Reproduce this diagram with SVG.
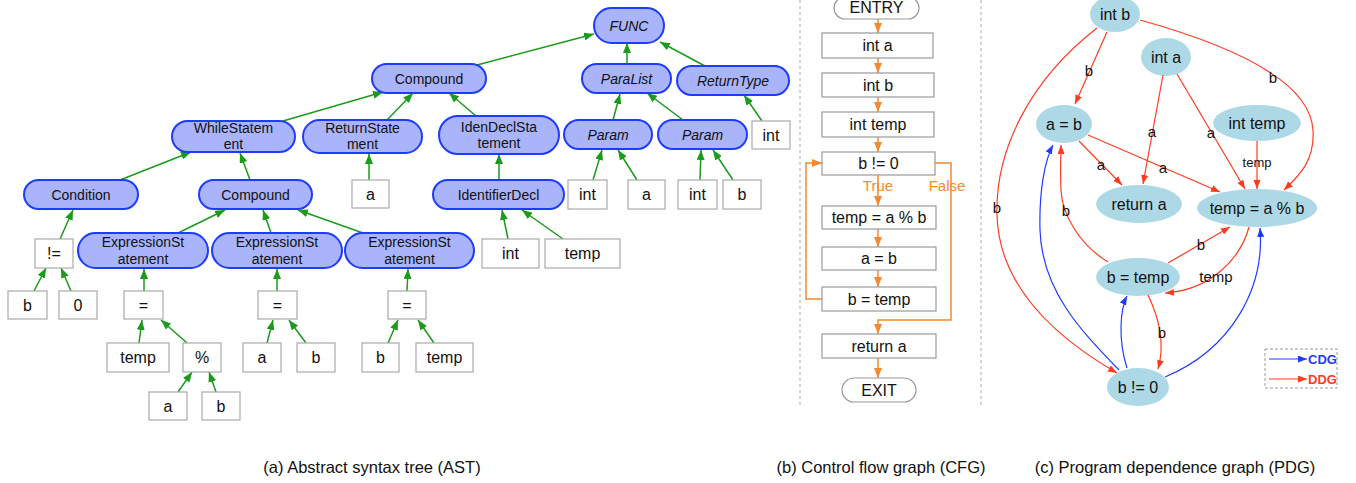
<svg xmlns="http://www.w3.org/2000/svg" width="1356" height="483" viewBox="0 0 1356 483">
<style>
  text { font-family: "Liberation Sans", Arial, sans-serif; fill: #111; text-anchor: middle; }
  .pill { fill: #a9b4fb; stroke: #1d3cff; stroke-width: 2; }
  .leaf { fill: #fff; stroke: #aaaaaa; stroke-width: 1.2; }
  .pt { font-size: 14px; }
  .it { font-style: italic; }
  .lt { font-size: 16px; }
  .ast { stroke: #1b9a1b; stroke-width: 1.5; fill: none; marker-end: url(#ga); }
  .cbox { fill: #fff; stroke: #999; stroke-width: 1.2; }
  .cfg { stroke: #f5892b; stroke-width: 1.5; fill: none; marker-end: url(#oa); }
  .ct { font-size: 16px; }
  .ol { font-size: 15px; fill: #f5892b; }
  .ell { fill: #add8e6; }
  .pt16 { font-size: 16px; }
  .ddg { stroke: #ff3b1f; stroke-width: 1.2; fill: none; marker-end: url(#ra); }
  .cdg { stroke: #1e3cff; stroke-width: 1.2; fill: none; marker-end: url(#ba); }
  .el { font-size: 15px; }
  .sep { stroke: #aaa; stroke-width: 1; stroke-dasharray: 3 3; }
  .cap { font-size: 16.5px; }
</style>
<defs>
  <marker id="ga" markerUnits="userSpaceOnUse" markerWidth="11" markerHeight="8" refX="10" refY="4" orient="auto"><path d="M0,0 L10,4 L0,8 z" fill="#1b9a1b"/></marker>
  <marker id="oa" markerUnits="userSpaceOnUse" markerWidth="11" markerHeight="8" refX="10" refY="4" orient="auto"><path d="M0,0 L10,4 L0,8 z" fill="#f5892b"/></marker>
  <marker id="ra" markerUnits="userSpaceOnUse" markerWidth="10" markerHeight="8" refX="9" refY="3.5" orient="auto"><path d="M0,0 L9,3.5 L0,7 z" fill="#ff3b1f"/></marker>
  <marker id="ba" markerUnits="userSpaceOnUse" markerWidth="10" markerHeight="8" refX="9" refY="3.5" orient="auto"><path d="M0,0 L9,3.5 L0,7 z" fill="#1e3cff"/></marker>
</defs>

<!-- panel separators -->
<line class="sep" x1="800" y1="0" x2="800" y2="408"/>
<line class="sep" x1="981" y1="0" x2="981" y2="408"/>

<!-- ===== AST ===== -->
<g id="ast-edges">
  <line class="ast" x1="477" y1="65" x2="594" y2="34"/>
  <line class="ast" x1="627" y1="64" x2="627" y2="43"/>
  <line class="ast" x1="705" y1="66" x2="660" y2="42"/>
  <line class="ast" x1="283" y1="121" x2="383" y2="92"/>
  <line class="ast" x1="387" y1="120" x2="413" y2="93"/>
  <line class="ast" x1="476" y1="116" x2="449" y2="93"/>
  <line class="ast" x1="613" y1="120" x2="620" y2="94"/>
  <line class="ast" x1="683" y1="120" x2="647" y2="93"/>
  <line class="ast" x1="762" y1="121" x2="744" y2="95"/>
  <line class="ast" x1="120" y1="180" x2="191" y2="152"/>
  <line class="ast" x1="250" y1="180" x2="240" y2="153"/>
  <line class="ast" x1="369" y1="180" x2="369" y2="154"/>
  <line class="ast" x1="499" y1="180" x2="499" y2="154"/>
  <line class="ast" x1="593" y1="180" x2="602" y2="150"/>
  <line class="ast" x1="637" y1="180" x2="618" y2="150"/>
  <line class="ast" x1="700" y1="180" x2="701" y2="150"/>
  <line class="ast" x1="733" y1="180" x2="713" y2="150"/>
  <line class="ast" x1="508" y1="239" x2="502" y2="210"/>
  <line class="ast" x1="563" y1="239" x2="522" y2="210"/>
  <line class="ast" x1="60" y1="239" x2="73" y2="210"/>
  <line class="ast" x1="178" y1="233" x2="225" y2="210"/>
  <line class="ast" x1="271" y1="233" x2="263" y2="210"/>
  <line class="ast" x1="363" y1="233" x2="298" y2="210"/>
  <line class="ast" x1="34" y1="291" x2="46" y2="268"/>
  <line class="ast" x1="71" y1="291" x2="61" y2="268"/>
  <line class="ast" x1="144" y1="291" x2="144" y2="269"/>
  <line class="ast" x1="277" y1="291" x2="277" y2="269"/>
  <line class="ast" x1="407" y1="291" x2="408" y2="269"/>
  <line class="ast" x1="139" y1="343" x2="142" y2="320"/>
  <line class="ast" x1="187" y1="343" x2="161" y2="320"/>
  <line class="ast" x1="267" y1="343" x2="273" y2="320"/>
  <line class="ast" x1="306" y1="343" x2="289" y2="320"/>
  <line class="ast" x1="388" y1="343" x2="398" y2="320"/>
  <line class="ast" x1="434" y1="343" x2="418" y2="320"/>
  <line class="ast" x1="178" y1="392" x2="192" y2="372"/>
  <line class="ast" x1="216" y1="392" x2="209" y2="372"/>
</g>

<g id="ast-func"><rect class="pill" x="594" y="8" width="70" height="35" rx="17.5"/><text class="pt it" x="629" y="31">FUNC</text></g>
<g id="ast-compound-body"><rect class="pill" x="372" y="64" width="114" height="29" rx="14.5"/><text class="pt" x="429" y="84">Compound</text></g>
<g id="ast-paralist"><rect class="pill" x="582" y="64" width="89" height="29" rx="14.5"/><text class="pt it" x="626.5" y="84">ParaList</text></g>
<g id="ast-returntype"><rect class="pill" x="677" y="66" width="112" height="29" rx="14.5"/><text class="pt it" x="733" y="86">ReturnType</text></g>
<g id="ast-while"><rect class="pill" x="172" y="121" width="123" height="31" rx="15.5"/><text class="pt" x="233.5" y="133">WhileStatem</text><text class="pt" x="233.5" y="149">ent</text></g>
<g id="ast-return"><rect class="pill" x="303" y="120" width="119" height="33" rx="16.5"/><text class="pt" x="362.5" y="133">ReturnState</text><text class="pt" x="362.5" y="149">ment</text></g>
<g id="ast-idendecl-stmt"><rect class="pill" x="439" y="116" width="120" height="38" rx="19"/><text class="pt" x="499" y="132">IdenDeclSta</text><text class="pt" x="499" y="148">tement</text></g>
<g id="ast-param-a"><rect class="pill" x="564" y="120" width="88" height="29" rx="14.5"/><text class="pt it" x="608" y="140">Param</text></g>
<g id="ast-param-b"><rect class="pill" x="658" y="120" width="89" height="29" rx="14.5"/><text class="pt it" x="702.5" y="140">Param</text></g>
<g id="ast-rettype-int"><rect class="leaf" x="752" y="121" width="38" height="28"/><text class="lt" x="771" y="141">int</text></g>
<g id="ast-condition"><rect class="pill" x="24" y="180" width="114" height="29" rx="14.5"/><text class="pt" x="81" y="200">Condition</text></g>
<g id="ast-compound-loop"><rect class="pill" x="199" y="180" width="113" height="29" rx="14.5"/><text class="pt" x="255.5" y="200">Compound</text></g>
<g id="ast-ret-a"><rect class="leaf" x="352" y="180" width="37" height="28"/><text class="lt" x="370.5" y="200">a</text></g>
<g id="ast-identdecl"><rect class="pill" x="433" y="180" width="131" height="29" rx="14.5"/><text class="pt" x="498.5" y="200">IdentifierDecl</text></g>
<g id="ast-p1-int"><rect class="leaf" x="568" y="180" width="39" height="29"/><text class="lt" x="587.5" y="200">int</text></g>
<g id="ast-p1-a"><rect class="leaf" x="628" y="180" width="37" height="29"/><text class="lt" x="646.5" y="200">a</text></g>
<g id="ast-p2-int"><rect class="leaf" x="678" y="180" width="39" height="29"/><text class="lt" x="697.5" y="200">int</text></g>
<g id="ast-p2-b"><rect class="leaf" x="723" y="180" width="38" height="29"/><text class="lt" x="742" y="200">b</text></g>
<g id="ast-decl-int"><rect class="leaf" x="482" y="239" width="57" height="29"/><text class="lt" x="510.5" y="259">int</text></g>
<g id="ast-decl-temp"><rect class="leaf" x="545" y="239" width="75" height="29"/><text class="lt" x="582.5" y="259">temp</text></g>
<g id="ast-neq"><rect class="leaf" x="35" y="239" width="38" height="29"/><text class="lt" x="54" y="259">!=</text></g>
<g id="ast-expr1"><rect class="pill" x="78" y="233" width="130" height="35" rx="17.5"/><text class="pt" x="143" y="247">ExpressionSt</text><text class="pt" x="143" y="264">atement</text></g>
<g id="ast-expr2"><rect class="pill" x="212" y="233" width="130" height="35" rx="17.5"/><text class="pt" x="277" y="247">ExpressionSt</text><text class="pt" x="277" y="264">atement</text></g>
<g id="ast-expr3"><rect class="pill" x="345" y="233" width="129" height="35" rx="17.5"/><text class="pt" x="409.5" y="247">ExpressionSt</text><text class="pt" x="409.5" y="264">atement</text></g>
<g id="ast-cond-b"><rect class="leaf" x="8" y="291" width="39" height="28"/><text class="lt" x="27.5" y="311">b</text></g>
<g id="ast-cond-0"><rect class="leaf" x="59" y="291" width="38" height="28"/><text class="lt" x="78" y="311">0</text></g>
<g id="ast-assign1"><rect class="leaf" x="124" y="291" width="39" height="28"/><text class="lt" x="143.5" y="311">=</text></g>
<g id="ast-assign2"><rect class="leaf" x="258" y="291" width="39" height="28"/><text class="lt" x="277.5" y="311">=</text></g>
<g id="ast-assign3"><rect class="leaf" x="388" y="291" width="38" height="28"/><text class="lt" x="407" y="311">=</text></g>
<g id="ast-a1-temp"><rect class="leaf" x="107" y="343" width="62" height="29"/><text class="lt" x="138" y="363">temp</text></g>
<g id="ast-mod"><rect class="leaf" x="183" y="343" width="38" height="29"/><text class="lt" x="202" y="363">%</text></g>
<g id="ast-a2-a"><rect class="leaf" x="243" y="343" width="38" height="29"/><text class="lt" x="262" y="363">a</text></g>
<g id="ast-a2-b"><rect class="leaf" x="297" y="343" width="38" height="29"/><text class="lt" x="316" y="363">b</text></g>
<g id="ast-a3-b"><rect class="leaf" x="362" y="343" width="37" height="29"/><text class="lt" x="380.5" y="363">b</text></g>
<g id="ast-a3-temp"><rect class="leaf" x="416" y="343" width="57" height="29"/><text class="lt" x="444.5" y="363">temp</text></g>
<g id="ast-mod-a"><rect class="leaf" x="149" y="392" width="38" height="28"/><text class="lt" x="168" y="412">a</text></g>
<g id="ast-mod-b"><rect class="leaf" x="202" y="392" width="38" height="28"/><text class="lt" x="221" y="412">b</text></g>

<!-- ===== CFG ===== -->
<g id="cfg-edges">
  <line class="cfg" x1="878" y1="19" x2="878" y2="33"/>
  <line class="cfg" x1="878" y1="58" x2="878" y2="73"/>
  <line class="cfg" x1="878" y1="97" x2="878" y2="112"/>
  <line class="cfg" x1="878" y1="137" x2="878" y2="152"/>
  <line class="cfg" x1="878" y1="175" x2="878" y2="206"/>
  <line class="cfg" x1="878" y1="229" x2="878" y2="247"/>
  <line class="cfg" x1="878" y1="270" x2="878" y2="287"/>
  <path class="cfg" d="M822,299 H806 V163 H822"/>
  <path class="cfg" d="M935,163 H951 V320 H878 V334"/>
  <line class="cfg" x1="878" y1="358" x2="878" y2="378"/>
  <text class="ol" x="878" y="191">True</text>
  <text class="ol" x="947" y="191">False</text>
</g>
<g id="cfg-entry"><rect class="cbox" x="834" y="-3" width="85" height="22" rx="11"/><text class="ct" x="876.5" y="13">ENTRY</text></g>
<g id="cfg-int-a"><rect class="cbox" x="822" y="33" width="111" height="25"/><text class="ct" x="877.5" y="51">int a</text></g>
<g id="cfg-int-b"><rect class="cbox" x="822" y="73" width="112" height="24"/><text class="ct" x="878" y="91">int b</text></g>
<g id="cfg-int-temp"><rect class="cbox" x="822" y="112" width="112" height="25"/><text class="ct" x="878" y="130">int temp</text></g>
<g id="cfg-cond"><rect class="cbox" x="822" y="152" width="113" height="23"/><text class="ct" x="878.5" y="169">b != 0</text></g>
<g id="cfg-mod"><rect class="cbox" x="822" y="206" width="114" height="23"/><text class="ct" x="879" y="223">temp = a % b</text></g>
<g id="cfg-ab"><rect class="cbox" x="822" y="247" width="114" height="23"/><text class="ct" x="879" y="264">a = b</text></g>
<g id="cfg-btemp"><rect class="cbox" x="822" y="287" width="114" height="24"/><text class="ct" x="879" y="305">b = temp</text></g>
<g id="cfg-return"><rect class="cbox" x="822" y="334" width="114" height="24"/><text class="ct" x="879" y="352">return a</text></g>
<g id="cfg-exit"><rect class="cbox" x="842" y="378" width="74" height="24" rx="12"/><text class="ct" x="879" y="396">EXIT</text></g>

<!-- ===== PDG ===== -->
<g id="pdg-int-b"><ellipse class="ell" cx="1115" cy="14" rx="25" ry="18"/><text class="pt16" x="1115" y="20">int b</text></g>
<g id="pdg-int-a"><ellipse class="ell" cx="1166" cy="57" rx="25" ry="19"/><text class="pt16" x="1166" y="63">int a</text></g>
<g id="pdg-ab"><ellipse class="ell" cx="1064" cy="124" rx="28" ry="19"/><text class="pt16" x="1064" y="130">a = b</text></g>
<g id="pdg-int-temp"><ellipse class="ell" cx="1257" cy="123" rx="44" ry="18"/><text class="pt16" x="1257" y="129">int temp</text></g>
<g id="pdg-return"><ellipse class="ell" cx="1139" cy="204" rx="43" ry="19"/><text class="pt16" x="1139" y="210">return a</text></g>
<g id="pdg-mod"><ellipse class="ell" cx="1257" cy="208" rx="60" ry="19"/><text class="pt16" x="1257" y="214">temp = a % b</text></g>
<g id="pdg-btemp"><ellipse class="ell" cx="1138" cy="277" rx="42" ry="19"/><text class="pt16" x="1138" y="283">b = temp</text></g>
<g id="pdg-cond"><ellipse class="ell" cx="1138" cy="387" rx="31" ry="19"/><text class="pt16" x="1138" y="393">b != 0</text></g>

<g id="pdg-edges">
  <path class="ddg" d="M1107,32 L1075,104"/>
  <path class="ddg" d="M1097,28 C1030,80 995,150 997,215 C999,290 1060,340 1117,373"/>
  <path class="ddg" d="M1140,20 C1230,45 1310,80 1313,130 C1315,160 1300,175 1284,190"/>
  <path class="ddg" d="M1163,75 L1143,184"/>
  <path class="ddg" d="M1177,74 L1245,189"/>
  <path class="ddg" d="M1257,141 L1257,189"/>
  <path class="ddg" d="M1079,141 L1122,185"/>
  <path class="ddg" d="M1088,135 L1220,192"/>
  <path class="ddg" d="M1108,262 C1080,245 1062,215 1061,190 C1060,170 1061,155 1061,145"/>
  <path class="cdg" d="M1119,370 C1080,330 1042,290 1040,230 C1039,190 1045,160 1053,145"/>
  <path class="ddg" d="M1168,263 L1230,227"/>
  <path class="ddg" d="M1249,227 C1240,260 1210,290 1165,293"/>
  <path class="ddg" d="M1148,295 C1160,320 1165,345 1158,369"/>
  <path class="cdg" d="M1127,368 C1118,340 1120,310 1127,296"/>
  <path class="cdg" d="M1165,377 C1230,350 1265,290 1260,228"/>
  <g>
    <text class="el" x="1089" y="76">b</text>
    <text class="el" x="997" y="213">b</text>
    <text class="el" x="1273" y="83">b</text>
    <text class="el" x="1152" y="137">a</text>
    <text class="el" x="1211" y="138">a</text>
    <text x="1257" y="167" style="font-size:13px">temp</text>
    <text class="el" x="1101" y="170">a</text>
    <text class="el" x="1163" y="173">a</text>
    <text class="el" x="1066" y="216">b</text>
    <text class="el" x="1201" y="250">b</text>
    <text class="el" x="1216" y="282">temp</text>
    <text class="el" x="1162" y="338">b</text>
  </g>
</g>

<g id="pdg-legend">
  <rect x="1265" y="349" width="72" height="39" fill="#fff" stroke="#999" stroke-width="1" stroke-dasharray="3 2"/>
  <line class="cdg" x1="1269" y1="359" x2="1307" y2="359"/>
  <text x="1308" y="364" style="font-size:13px;font-weight:bold;fill:#1e3cff;text-anchor:start">CDG</text>
  <line class="ddg" x1="1269" y1="379" x2="1307" y2="379"/>
  <text x="1308" y="384" style="font-size:13px;font-weight:bold;fill:#ff3b1f;text-anchor:start">DDG</text>
</g>

<!-- captions -->
<text class="cap" x="372" y="473">(a) Abstract syntax tree (AST)</text>
<text class="cap" x="881" y="473">(b) Control flow graph (CFG)</text>
<text class="cap" x="1175" y="473">(c) Program dependence graph (PDG)</text>
</svg>
